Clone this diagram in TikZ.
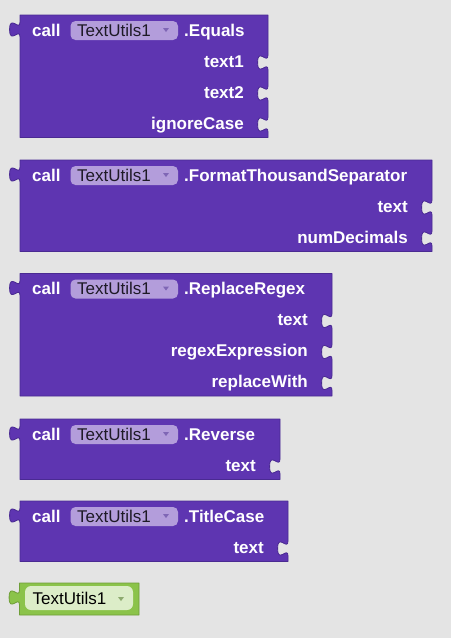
\documentclass[tikz,border=0pt]{standalone}
\usepackage{fontspec}
\setmainfont{Liberation Sans}
\definecolor{bg}{HTML}{E4E4E4}
\definecolor{purp}{HTML}{5E35B1}
\definecolor{purpdk}{HTML}{4A2A92}
\definecolor{pillc}{HTML}{B39DDB}
\definecolor{pilltric}{HTML}{7F66B5}
\definecolor{pilltxtc}{HTML}{1E1A26}
\definecolor{grn}{HTML}{8BC34A}
\definecolor{grndk}{HTML}{6F9E38}
\definecolor{grnpill}{HTML}{DCEDC8}
\definecolor{grntri}{HTML}{8DAA6E}
\tikzset{
  tabdn/.style 2 args={insert path={.. controls (#1,#2+10) and (#1-10.4,#2-8) .. (#1-10.4,#2+7.5) .. controls (#1-10.4,#2+23) and (#1,#2+5) .. (#1,#2+15)}},
  tabup/.style 2 args={insert path={.. controls (#1,#2+5) and (#1-10.4,#2+23) .. (#1-10.4,#2+7.5) .. controls (#1-10.4,#2-8) and (#1,#2+10) .. (#1,#2)}},
  blockfill/.style={fill=purp, draw=purpdk, line width=0.8pt, line join=round},
  greenfill/.style={fill=grn, draw=grndk, line width=0.8pt, line join=round},
  lbl/.style={font=\fontsize{17}{20}\selectfont\bfseries, text=white, inner sep=0pt},
  pilltxt/.style={font=\fontsize{17}{20}\selectfont, text=pilltxtc, inner sep=0pt},
  pillbox/.style={fill=pillc, rounded corners=5pt},
  pilltri/.style={fill=pilltric},
}
\newcommand\callblock[5]{% #1 top, #2 right, #3 n inputs, #4 id, #5 title
  \pgfmathsetmacro\blkbot{#1+21+31*#3+8.5}
  \filldraw[blockfill] (20,#1) -- (#2,#1)
    \foreach \k in {1,...,#3}{ -- (#2,#1+9+31*\k) [tabdn={#2}{#1+9+31*\k}] }
    -- (#2,\blkbot) -- (20,\blkbot) -- (20,#1+22) [tabup={20}{#1+7}] -- cycle;
  \node[lbl,anchor=base west] (#4call) at (32,#1+21) {call};
  \fill[pillbox] (70.5,#1+6) rectangle (178,#1+25);
  \node[pilltxt,anchor=base west] (#4comp) at (77,#1+21) {TextUtils1};
  \fill[pilltri] (163,#1+13) -- (169,#1+13) -- (166,#1+17) -- cycle;
  \node[lbl,anchor=base west] (#4title) at (184,#1+21) {#5};
}
\newcommand\blkinputs[4]{% #1 top, #2 right, #3 id, #4 labels
  \foreach \lab [count=\k] in {#4}{%
    \node[lbl,anchor=base east] (#3in\k) at (#2-24,#1+21+31*\k) {\lab};}
}
\begin{document}
\begin{tikzpicture}[x=1pt,y=-1pt]
  \fill[bg] (0,0) rectangle (451,638);
  \useasboundingbox (0,0) rectangle (451,638);

  \callblock{15}{268}{3}{a}{.Equals}
  \blkinputs{15}{268}{a}{text1,text2,ignoreCase}

  \callblock{160}{432}{2}{b}{.FormatThousandSeparator}
  \blkinputs{160}{432}{b}{text,numDecimals}

  \callblock{273.5}{332}{3}{c}{.ReplaceRegex}
  \blkinputs{273.5}{332}{c}{text,regexExpression,replaceWith}

  \callblock{419}{280}{1}{d}{.Reverse}
  \blkinputs{419}{280}{d}{text}

  \callblock{501}{288}{1}{e}{.TitleCase}
  \blkinputs{501}{288}{e}{text}

  % component getter block
  \filldraw[greenfill] (19.5,583) -- (139,583) -- (139,615) -- (19.5,615) -- (19.5,605) [tabup={19.5}{590}] -- cycle;
  \fill[fill=grnpill, rounded corners=6pt] (25,586) rectangle (133,610);
  \node[pilltxt, text=black, anchor=base west] (gcomp) at (32.5,604) {TextUtils1};
  \fill[grntri] (118,597) -- (124,597) -- (121,601) -- cycle;
\end{tikzpicture}
\end{document}
